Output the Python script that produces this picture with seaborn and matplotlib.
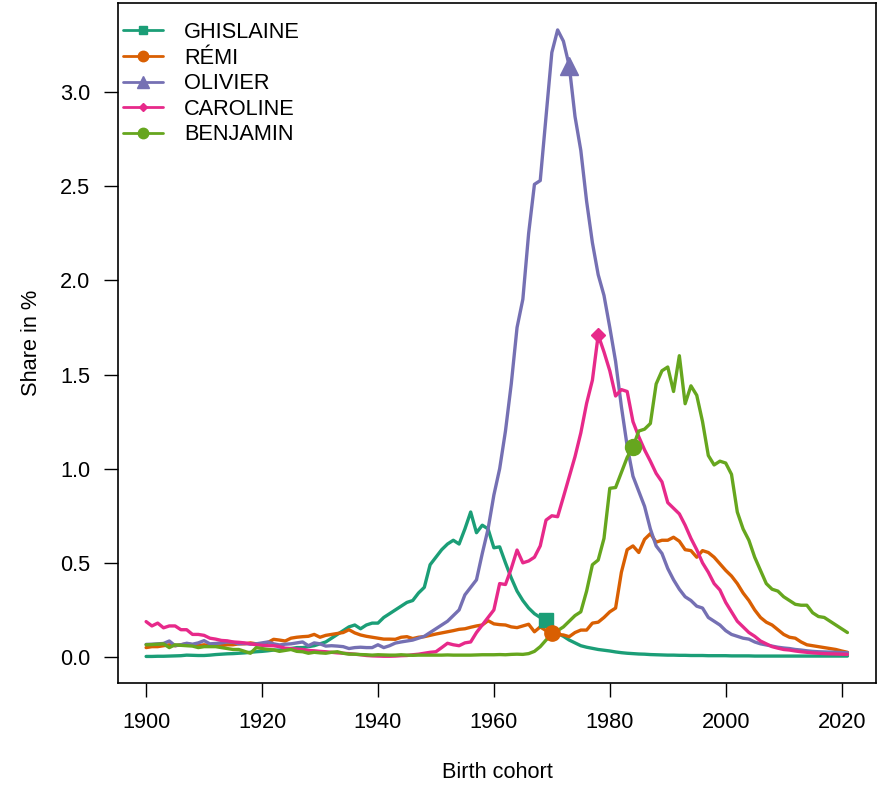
import numpy as np
import pandas as pd
import matplotlib
matplotlib.use("Agg")
import matplotlib.pyplot as plt
from matplotlib.lines import Line2D
import seaborn as sns

# =====================
# DATA (share in %, birth cohorts 1900-2021)
# =====================
years = list(range(1900, 2022))
names = ["GHISLAINE", "RÉMI", "OLIVIER", "CAROLINE", "BENJAMIN"]

ghislaine = [
    0.003, 0.003, 0.004, 0.004, 0.005, 0.006, 0.007, 0.010, 0.009, 0.008,
    0.008, 0.010, 0.013, 0.015, 0.017, 0.018, 0.020, 0.022, 0.025, 0.028,
    0.030, 0.033, 0.037, 0.037, 0.040, 0.045, 0.050, 0.050, 0.055, 0.060,
    0.070, 0.080, 0.100, 0.120, 0.140, 0.160, 0.170, 0.150, 0.170, 0.180,
    0.180, 0.210, 0.230, 0.250, 0.270, 0.290, 0.300, 0.340, 0.370, 0.490,
    0.530, 0.570, 0.600, 0.620, 0.600, 0.680, 0.770, 0.660, 0.700, 0.680,
    0.580, 0.585, 0.500, 0.420, 0.350, 0.300, 0.260, 0.230, 0.210, 0.196,
    0.135, 0.125, 0.110, 0.090, 0.075, 0.060, 0.052, 0.046, 0.040, 0.036,
    0.032, 0.027, 0.023, 0.020, 0.018, 0.016, 0.015, 0.013, 0.012, 0.011,
    0.010, 0.010, 0.009, 0.009, 0.008, 0.008, 0.008, 0.007, 0.007, 0.007,
    0.007, 0.006, 0.006, 0.006, 0.006, 0.005, 0.005, 0.005, 0.005, 0.005,
    0.005, 0.005, 0.005, 0.005, 0.005, 0.005, 0.005, 0.005, 0.005, 0.005,
    0.005, 0.005,
]
remi = [
    0.050, 0.055, 0.055, 0.060, 0.065, 0.060, 0.065, 0.070, 0.065, 0.060,
    0.065, 0.060, 0.058, 0.060, 0.065, 0.065, 0.070, 0.070, 0.075, 0.070,
    0.070, 0.077, 0.094, 0.090, 0.085, 0.100, 0.105, 0.108, 0.110, 0.120,
    0.105, 0.115, 0.120, 0.125, 0.130, 0.145, 0.128, 0.117, 0.110, 0.105,
    0.100, 0.095, 0.095, 0.094, 0.105, 0.108, 0.098, 0.105, 0.108, 0.115,
    0.122, 0.128, 0.134, 0.140, 0.147, 0.150, 0.158, 0.165, 0.170, 0.193,
    0.176, 0.172, 0.170, 0.160, 0.156, 0.165, 0.174, 0.134, 0.160, 0.140,
    0.127, 0.120, 0.117, 0.108, 0.130, 0.143, 0.143, 0.180, 0.185, 0.210,
    0.240, 0.260, 0.450, 0.570, 0.590, 0.555, 0.625, 0.655, 0.610, 0.620,
    0.620, 0.636, 0.615, 0.570, 0.565, 0.530, 0.565, 0.555, 0.530, 0.495,
    0.460, 0.430, 0.390, 0.340, 0.300, 0.250, 0.210, 0.185, 0.170, 0.145,
    0.120, 0.105, 0.100, 0.080, 0.065, 0.060, 0.055, 0.050, 0.045, 0.040,
    0.032, 0.025,
]
olivier = [
    0.067, 0.068, 0.070, 0.072, 0.085, 0.060, 0.065, 0.073, 0.068, 0.075,
    0.087, 0.070, 0.072, 0.075, 0.080, 0.078, 0.070, 0.072, 0.068, 0.070,
    0.075, 0.080, 0.070, 0.064, 0.068, 0.070, 0.075, 0.080, 0.060, 0.075,
    0.070, 0.058, 0.060, 0.058, 0.055, 0.045, 0.050, 0.052, 0.050, 0.050,
    0.065, 0.050, 0.060, 0.074, 0.080, 0.085, 0.090, 0.100, 0.110, 0.130,
    0.150, 0.170, 0.190, 0.220, 0.250, 0.330, 0.370, 0.410, 0.550, 0.680,
    0.860, 1.000, 1.200, 1.450, 1.750, 1.900, 2.250, 2.510, 2.530, 2.870,
    3.210, 3.330, 3.270, 3.140, 2.870, 2.690, 2.420, 2.200, 2.030, 1.920,
    1.750, 1.570, 1.330, 1.120, 0.960, 0.880, 0.800, 0.680, 0.590, 0.550,
    0.470, 0.410, 0.360, 0.320, 0.300, 0.270, 0.260, 0.210, 0.190, 0.170,
    0.140, 0.120, 0.110, 0.100, 0.095, 0.080, 0.070, 0.064, 0.058, 0.052,
    0.048, 0.045, 0.040, 0.037, 0.033, 0.030, 0.028, 0.027, 0.026, 0.025,
    0.024, 0.023,
]
caroline = [
    0.188, 0.165, 0.180, 0.155, 0.165, 0.165, 0.145, 0.145, 0.120, 0.120,
    0.115, 0.100, 0.095, 0.088, 0.086, 0.080, 0.078, 0.075, 0.070, 0.065,
    0.062, 0.060, 0.060, 0.055, 0.047, 0.045, 0.042, 0.040, 0.035, 0.033,
    0.030, 0.028, 0.025, 0.022, 0.020, 0.018, 0.015, 0.012, 0.008, 0.006,
    0.005, 0.004, 0.004, 0.005, 0.007, 0.008, 0.012, 0.015, 0.020, 0.025,
    0.028, 0.050, 0.073, 0.065, 0.060, 0.075, 0.080, 0.130, 0.170, 0.210,
    0.250, 0.390, 0.385, 0.470, 0.568, 0.500, 0.510, 0.530, 0.590, 0.727,
    0.750, 0.745, 0.850, 0.957, 1.064, 1.190, 1.347, 1.470, 1.710, 1.620,
    1.520, 1.386, 1.420, 1.410, 1.250, 1.170, 1.100, 1.040, 0.975, 0.930,
    0.820, 0.790, 0.760, 0.700, 0.630, 0.570, 0.500, 0.450, 0.390, 0.356,
    0.290, 0.240, 0.190, 0.160, 0.130, 0.110, 0.085, 0.070, 0.055, 0.047,
    0.040, 0.037, 0.032, 0.028, 0.025, 0.022, 0.020, 0.018, 0.017, 0.016,
    0.015, 0.014,
]
benjamin = [
    0.065, 0.066, 0.068, 0.070, 0.050, 0.065, 0.062, 0.060, 0.058, 0.050,
    0.055, 0.055, 0.055, 0.050, 0.045, 0.040, 0.040, 0.030, 0.020, 0.050,
    0.045, 0.040, 0.038, 0.030, 0.035, 0.040, 0.030, 0.028, 0.020, 0.025,
    0.022, 0.020, 0.025, 0.028, 0.020, 0.015, 0.015, 0.013, 0.012, 0.010,
    0.012, 0.011, 0.010, 0.010, 0.012, 0.010, 0.009, 0.010, 0.010, 0.010,
    0.010, 0.010, 0.011, 0.010, 0.010, 0.010, 0.010, 0.011, 0.012, 0.012,
    0.012, 0.013, 0.012, 0.014, 0.015, 0.014, 0.018, 0.030, 0.055, 0.090,
    0.120, 0.140, 0.160, 0.190, 0.220, 0.240, 0.350, 0.490, 0.515, 0.630,
    0.896, 0.900, 0.980, 1.060, 1.115, 1.200, 1.210, 1.240, 1.450, 1.520,
    1.540, 1.410, 1.600, 1.345, 1.440, 1.390, 1.250, 1.070, 1.020, 1.040,
    1.030, 0.970, 0.770, 0.680, 0.620, 0.530, 0.460, 0.390, 0.360, 0.350,
    0.320, 0.300, 0.280, 0.275, 0.275, 0.235, 0.215, 0.210, 0.190, 0.170,
    0.150, 0.130,
]

# one highlighted point per name
mark_years = [1969, 1970, 1973, 1978, 1984]
markers = ["s", "o", "^", "D", "o"]
mark_sizes = [10.5, 11, 12.5, 6.8, 11.5]
legend_sizes = [6, 7.5, 8, 4.5, 7.5]

colors = sns.color_palette("Dark2", 5)

series = [ghislaine, remi, olivier, caroline, benjamin]
df = pd.concat(
    [pd.DataFrame({"year": years, "share": vals, "name": nm})
     for nm, vals in zip(names, series)],
    ignore_index=True)

# =====================
# PLOT
# =====================
sns.set_style("ticks")
plt.rcParams["font.family"] = ["Liberation Sans", "DejaVu Sans"]
plt.rcParams["font.size"] = 15.7
plt.rcParams["text.color"] = "black"
plt.rcParams["axes.labelcolor"] = "black"

fig = plt.figure(figsize=(8.81, 7.85), dpi=100)
ax = fig.add_axes([118 / 881, 1 - 683 / 785, (876 - 118) / 881, (683 - 3) / 785])

sns.lineplot(data=df, x="year", y="share", hue="name", hue_order=names,
             palette=colors, linewidth=2.4, legend=False, ax=ax)

for nm, vals, yr, m, ms, c in zip(names, series, mark_years, markers, mark_sizes, colors):
    i = years.index(yr)
    ax.plot(years[i], vals[i], marker=m, markersize=ms, color=c,
            linestyle="none", zorder=5)

ax.set_xlim(1895.15, 2025.93)
ax.set_ylim(-0.138, 3.473)
ax.set_xticks(range(1900, 2021, 20))
ax.set_yticks(np.arange(0, 3.01, 0.5))
ax.set_yticklabels([f"{v:.1f}" for v in np.arange(0, 3.01, 0.5)])
ax.tick_params(axis="both", direction="out", length=10, width=1.0,
               color="black", labelsize=15.7, labelcolor="black")
ax.tick_params(axis="x", pad=11)
ax.tick_params(axis="y", pad=10)
for sp in ax.spines.values():
    sp.set_visible(True)
    sp.set_color("black")
    sp.set_linewidth(1.2)

ax.set_xlabel("Birth cohort", fontsize=15.7, labelpad=21, color="black")
ax.set_ylabel("Share in %", fontsize=15.7, labelpad=13, color="black")

handles = [Line2D([], [], color=c, lw=2.0, marker=m, markersize=s)
           for c, m, s in zip(colors, markers, legend_sizes)]
leg = ax.legend(handles, names, loc="upper left", bbox_to_anchor=(0.0066, 0.972),
                frameon=False, borderpad=0, borderaxespad=0, handlelength=1.85,
                handletextpad=0.95, labelspacing=0.21, fontsize=15.7)
for t in leg.get_texts():
    t.set_color("black")

fig.savefig("out.png", dpi=100)
